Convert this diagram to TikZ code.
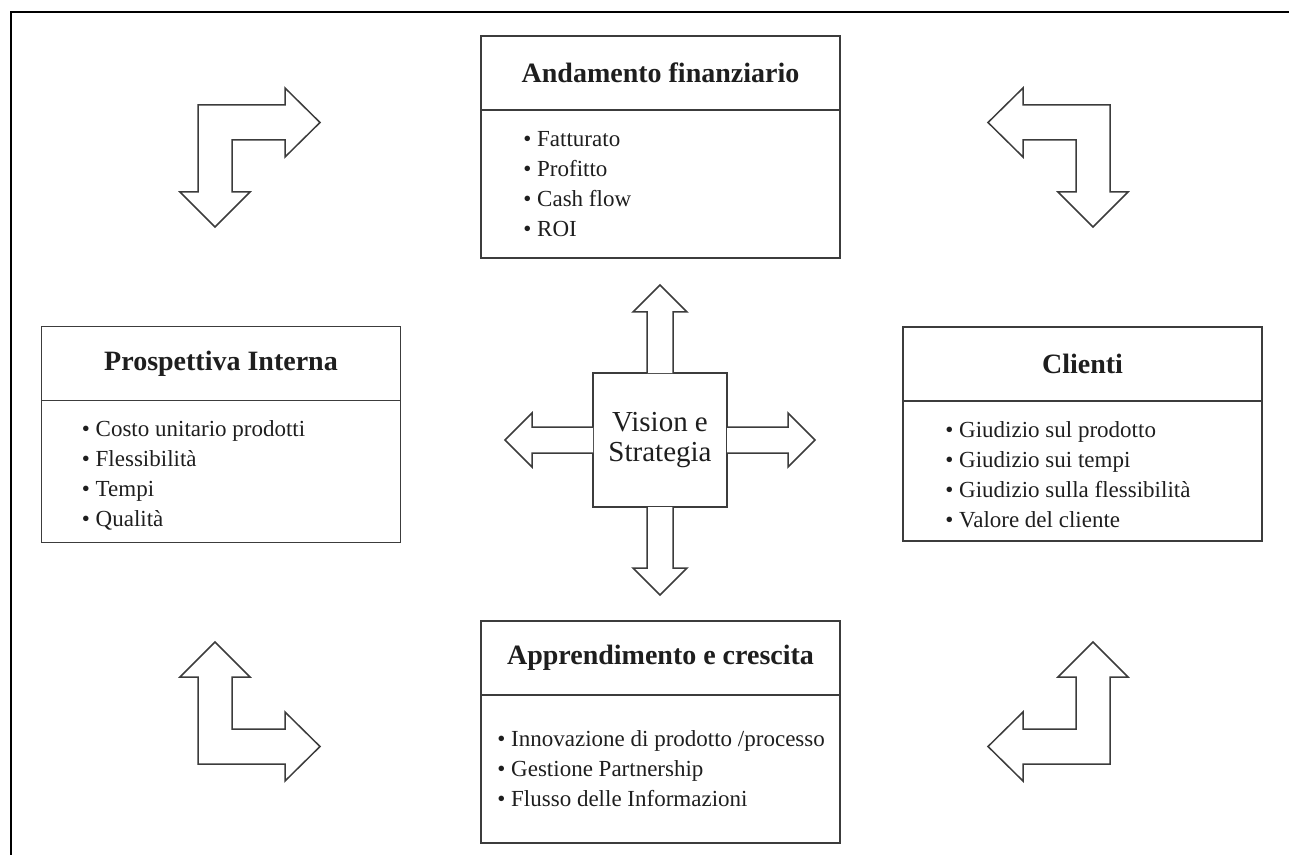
\documentclass[tikz,border=0pt]{standalone}
\usepackage{fontspec}
\setmainfont{Liberation Serif}
\usetikzlibrary{positioning}
\definecolor{linegray}{HTML}{3C3C3C}
\definecolor{textgray}{HTML}{1E1E1E}
\tikzset{
  headbox/.style={draw=linegray, line width=0.8pt, minimum width=179.5pt, minimum height=37pt,
    inner sep=0pt, outer sep=0pt, font=\fontsize{14}{16}\selectfont\bfseries, text=textgray},
  bodybox/.style={draw=linegray, line width=0.8pt, minimum width=179.5pt, inner sep=0pt, outer sep=0pt},
  itemlist/.style={align=left, anchor=west, inner sep=0pt, font=\fontsize{11.5}{15}\selectfont, text=textgray},
  barrow/.style={draw=linegray, line width=0.75pt, fill=white, line join=miter},
}
\begin{document}
\begin{tikzpicture}[x=0.5pt,y=-0.5pt]
\useasboundingbox (0,0) rectangle (1289,855);
% frame, only the top and left edges show
\draw[line width=1.1pt] (11,855) -- (11,12) -- (1289,12);

% the four perspectives
\node[headbox] (finH) at (660.5,73) {Andamento finanziario};
\node[bodybox, minimum height=74pt, below=0pt of finH] (finB) {};
\node[itemlist, right=21pt of finB.west] (finL) {• Fatturato\\• Profitto\\• Cash flow\\• ROI};

\node[headbox] (intH) at (221,363.5) {Prospettiva Interna};
\node[bodybox, minimum height=71pt, below=0pt of intH] (intB) {};
\node[itemlist, right=20pt of intB.west, yshift=-2pt] (intL) {• Costo unitario prodotti\\• Flessibilità\\• Tempi\\• Qualità};

\node[headbox] (cliH) at (1082.5,364) {Clienti};
\node[bodybox, minimum height=70pt, below=0pt of cliH] (cliB) {};
\node[itemlist, right=21pt of cliB.west, yshift=-2pt] (cliL) {• Giudizio sul prodotto\\• Giudizio sui tempi\\• Giudizio sulla flessibilità\\• Valore del cliente};

\node[headbox] (appH) at (660.5,658) {Apprendimento e crescita};
\node[bodybox, minimum height=74pt, below=0pt of appH] (appB) {};
\node[itemlist, right=8pt of appB.west] (appL) {• Innovazione di prodotto /processo\\• Gestione Partnership\\• Flusso delle Informazioni};

% centre
\node[draw=linegray, line width=0.8pt, minimum size=67pt, inner sep=0pt, outer sep=0pt, align=center,
  font=\fontsize{14.5}{15}\selectfont, text=textgray] (vs) at (660,440) {Vision e\\Strategia};

\draw[barrow] (vs.north) ++(-13,0) -- ++(0,-61) -- ++(-14,0) -- ++(27,-27) -- ++(27,27) -- ++(-14,0) -- ++(0,61);
\draw[barrow] (vs.south) ++(-13,0) -- ++(0,61) -- ++(-14,0) -- ++(27,27) -- ++(27,-27) -- ++(-14,0) -- ++(0,-61);
\draw[barrow] (vs.west) ++(0,-13) -- ++(-61,0) -- ++(0,-14) -- ++(-27,27) -- ++(27,27) -- ++(0,-14) -- ++(61,0);
\draw[barrow] (vs.east) ++(0,-13) -- ++(61,0) -- ++(0,-14) -- ++(27,27) -- ++(-27,27) -- ++(0,-14) -- ++(-61,0);

% corner arrows
\draw[barrow] (198,192) -- (198,105) -- (285,105) -- (285,88) -- (320,122.5) -- (285,157) -- (285,140)
  -- (232,140) -- (232,192) -- (250,192) -- (215,227) -- (180,192) -- cycle;
\draw[barrow] (1110,192) -- (1110,105) -- (1023,105) -- (1023,88) -- (988,122.5) -- (1023,157) -- (1023,140)
  -- (1076,140) -- (1076,192) -- (1058,192) -- (1093,227) -- (1128,192) -- cycle;
\draw[barrow] (198,677) -- (198,764) -- (285,764) -- (285,781) -- (320,746.5) -- (285,712) -- (285,729)
  -- (232,729) -- (232,677) -- (250,677) -- (215,642) -- (180,677) -- cycle;
\draw[barrow] (1110,677) -- (1110,764) -- (1023,764) -- (1023,781) -- (988,746.5) -- (1023,712) -- (1023,729)
  -- (1076,729) -- (1076,677) -- (1058,677) -- (1093,642) -- (1128,677) -- cycle;
\end{tikzpicture}
\end{document}
